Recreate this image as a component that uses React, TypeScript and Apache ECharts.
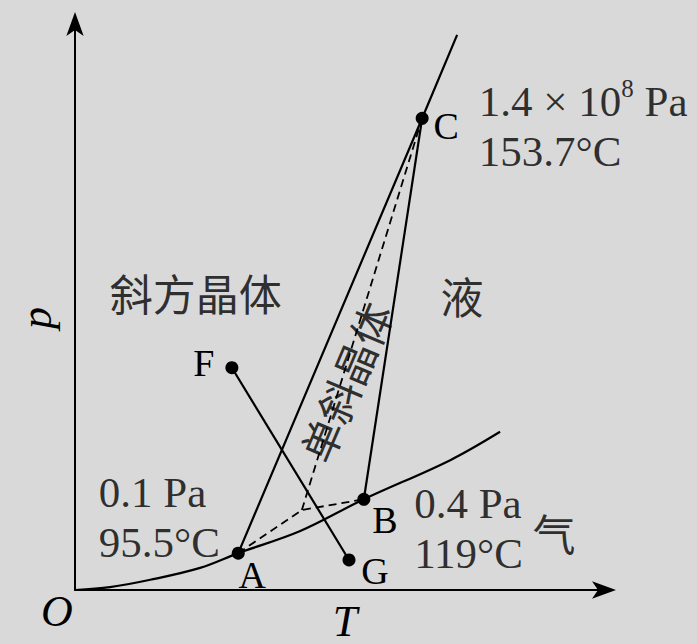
import React, { useEffect, useRef } from 'react';
import * as echarts from 'echarts';

// Vapour-pressure curve of sulfur (schematic units along T and p)
const vaporT = [0, 6.6, 14.2, 23.6, 30.8, 42.5, 54.5, 70.8, 80.2];
const vaporP = [0, 0.5, 1.8, 3.9, 6.5, 10.4, 16.0, 22.9, 27.9];

// Labelled points
const pointNames = ['A', 'B', 'C', 'F', 'G'];
const pointT = [30.8, 54.5, 65.5, 29.6, 51.7];
const pointP = [6.5, 16.0, 83.2, 39.2, 5.3];

// Rhombic boundary: A -> C -> beyond C
const rhombicT = [30.8, 65.5, 72.1];
const rhombicP = [6.5, 83.2, 97.9];

// Monoclinic / liquid boundary: B -> C
const monoLiquidT = [54.5, 65.5];
const monoLiquidP = [16.0, 83.2];

// Metastable triple point and its dashed curves
const metaT = 42.8;
const metaP = 14.1;

// Process path F -> G
const pathT = [29.6, 51.7];
const pathP = [39.2, 5.3];

// Region names
const regionNames = ['斜方晶体', '液', '气'];
const regionT = [22.8, 73.0, 90.4];
const regionP = [52.6, 52.0, 10.2];
const monoclinicName = '单斜晶体';
const monoclinicT = 50.9;
const monoclinicP = 36.8;

// Triple-point conditions
const conditionPressure = ['0.1 Pa', '0.4 Pa', '1.4 × 10^8 Pa'];
const conditionTemp = ['95.5°C', '119°C', '153.7°C'];
const conditionT = [4.5, 64.0, 76.2];
const conditionP = [12.7, 10.9, 81.8];

const SERIF = 'Liberation Serif, Times New Roman, serif';
const CJK = 'Noto Sans CJK SC, sans-serif';

const letterOffsets: Record<string, [number, number]> = {
  A: [14, 22],
  B: [21, 21],
  C: [24, 8],
  F: [-28, -5],
  G: [26, 11],
};

function line(t: number[], p: number[], dashed = false, extra: any = {}) {
  return {
    type: 'line',
    data: t.map((v, i) => [v, p[i]]),
    symbol: 'none',
    silent: true,
    lineStyle: {
      color: '#000',
      width: dashed ? 1.8 : 2.2,
      type: dashed ? [8, 5] : 'solid',
    },
    z: 2,
    ...extra,
  };
}

export default function App() {
  const ref = useRef<HTMLDivElement>(null);

  useEffect(() => {
    if (!ref.current) return;
    const chart = echarts.init(ref.current, undefined, { renderer: 'svg' });

    const axisCommon = {
      type: 'value',
      min: 0,
      max: 100,
      axisTick: { show: false },
      axisLabel: { show: false },
      splitLine: { show: false },
      axisLine: {
        show: true,
        symbol: ['none', 'arrow'],
        symbolSize: [13, 24],
        symbolOffset: [0, 11],
        lineStyle: { color: '#000', width: 2 },
      },
    };

    const italic = `italic 44px ${SERIF}`;

    const option: any = {
      animation: false,
      backgroundColor: '#d9d9d9',
      grid: {
        left: 75,
        right: 92,
        top: 23,
        bottom: 54,
        containLabel: false,
        outerBoundsMode: 'none',
      },
      xAxis: { ...axisCommon },
      yAxis: { ...axisCommon },
      graphic: [
        {
          type: 'text',
          x: 57,
          y: 611,
          style: { text: 'O', font: italic, fill: '#000', align: 'center', verticalAlign: 'middle' },
        },
        {
          type: 'text',
          x: 345,
          y: 621,
          style: { text: 'T', font: italic, fill: '#000', align: 'center', verticalAlign: 'middle' },
        },
        {
          type: 'text',
          x: 36,
          y: 318,
          rotation: Math.PI / 2,
          style: { text: 'p', font: italic, fill: '#000', align: 'center', verticalAlign: 'middle' },
        },
      ],
      series: [
        line(vaporT, vaporP, false, { smooth: 0.35 }),
        line(rhombicT, rhombicP),
        line(monoLiquidT, monoLiquidP),
        line([pointT[0], metaT, pointT[1]], [pointP[0], metaP, pointP[1]], true),
        line([metaT, pointT[2]], [metaP, pointP[2]], true),
        line(pathT, pathP),
        {
          type: 'scatter',
          symbol: 'circle',
          symbolSize: 13,
          itemStyle: { color: '#000', opacity: 1 },
          z: 5,
          data: pointNames.map((n, i) => ({
            name: n,
            value: [pointT[i], pointP[i]],
            label: {
              show: true,
              position: 'inside',
              offset: letterOffsets[n],
              formatter: '{b}',
              fontFamily: SERIF,
              fontSize: 38,
              color: '#000',
            },
          })),
        },
        {
          type: 'scatter',
          symbolSize: 0,
          silent: true,
          data: regionNames.map((n, i) => ({ name: n, value: [regionT[i], regionP[i]] })),
          label: {
            show: true,
            position: 'inside',
            formatter: '{b}',
            fontFamily: CJK,
            fontSize: 43,
            color: '#000',
          },
        },
        {
          type: 'scatter',
          symbolSize: 0,
          silent: true,
          data: [{ name: monoclinicName, value: [monoclinicT, monoclinicP] }],
          label: {
            show: true,
            position: 'inside',
            formatter: '{b}',
            rotate: 67,
            fontFamily: CJK,
            fontSize: 42,
            color: '#000',
          },
        },
        {
          type: 'scatter',
          symbolSize: 0,
          silent: true,
          data: conditionPressure.map((pr, i) => ({
            name: pr,
            value: [conditionT[i], conditionP[i]],
            temp: conditionTemp[i],
          })),
          label: {
            show: true,
            position: 'right',
            distance: 0,
            align: 'left',
            verticalAlign: 'middle',
            formatter: (params: any) => {
              const parts = String(params.name).split(/\^(\d+)/);
              const first =
                parts.length === 3
                  ? `{n|${parts[0]}}{sup|${parts[1]}}{n|${parts[2]}}`
                  : `{n|${parts[0]}}`;
              return `${first}\n{n|${params.data.temp}}`;
            },
            rich: {
              n: {
                fontFamily: SERIF,
                fontSize: 43,
                lineHeight: 50,
                color: '#000',
              },
              sup: {
                fontFamily: SERIF,
                fontSize: 25,
                lineHeight: 50,
                verticalAlign: 'top',
                color: '#000',
              },
            },
          },
        },
      ],
    };

    chart.setOption(option);
    return () => chart.dispose();
  }, []);

  return (
    <div
      ref={ref}
      style={{ position: 'fixed', left: 0, top: 0, width: 697, height: 644 }}
    />
  );
}
